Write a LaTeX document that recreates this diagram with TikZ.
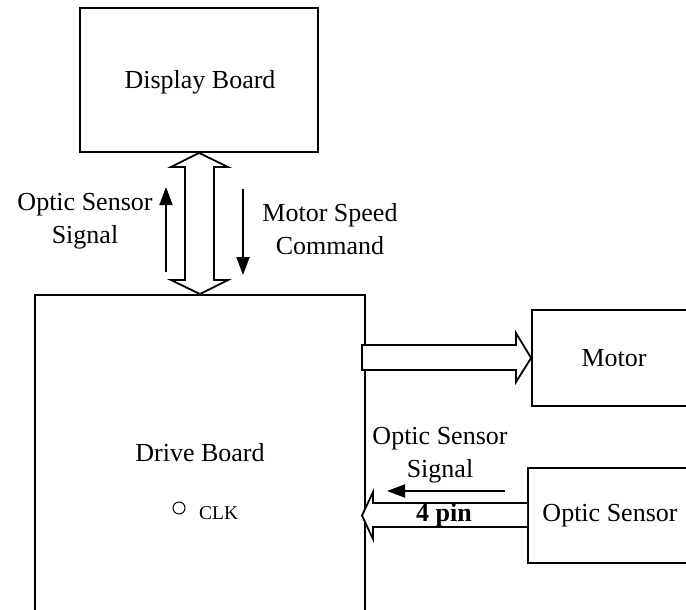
\documentclass[tikz,border=0pt]{standalone}
\usepackage{fontspec}
\setmainfont{Liberation Serif}
\usetikzlibrary{arrows.meta}
\begin{document}
\begin{tikzpicture}[x=1pt,y=-1pt,
  box/.style={draw,line width=1.8pt,inner sep=0pt},
  lbl/.style={font=\fontsize{26}{33}\selectfont,align=center,inner sep=0pt},
  blockarrow/.style={draw,fill=white,line width=1.8pt,line join=miter},
  sig/.style={line width=1.8pt,-{Triangle[length=18pt,width=13pt]}}]
\useasboundingbox (0,0) rectangle (686,610);
\clip (0,0) rectangle (686,610);
\fill[white] (0,0) rectangle (686,610);
% boxes
\node[box,minimum width=238pt,minimum height=144pt] (disp) at (199,80) {};
\node[box,minimum width=330pt,minimum height=345pt] (drive) at (200,467.5) {};
\node[box,minimum width=165pt,minimum height=96pt] (motor) at (614.5,358) {};
\node[box,minimum width=165pt,minimum height=95pt] (sensor) at (610.5,515.5) {};
% labels
\node[lbl] (dispt) at (200,82) {Display Board};
\node[lbl] (drivet) at (200,453) {Drive Board};
\node[lbl] (motort) at (614,358) {Motor};
\node[lbl] (sensort) at (610,516) {Optic Sensor};
\node[lbl] (lsig) at (85,221) {Optic Sensor\\Signal};
\node[lbl] (cmd) at (330,229) {Motor Speed\\Command};
\node[lbl] (rsig) at (440,455) {Optic Sensor\\Signal};
% double arrow between display and drive
\draw[blockarrow] (disp.south) -- (171,167) -- (185,167) -- (185,280) -- (171,280)
  -- (drive.north) -- (228,280) -- (214,280) -- (214,167) -- (228,167) -- cycle;
% drive -> motor
\draw[blockarrow] (362,345) -- (516,345) -- (516,333) -- (motor.west) -- (516,382)
  -- (516,370) -- (362,370) -- cycle;
% sensor -> drive (4 pin)
\draw[blockarrow] (sensor.west |- 0,503) -- (373,503) -- (373,492) -- (362,515.5)
  -- (373,539) -- (373,527) -- (sensor.west |- 0,527);
\node[inner sep=0pt,font=\bfseries\fontsize{26}{30}\selectfont] (pin) at (444,515) {4 pin};
% signal arrows
\coordinate (u1) at (166,272); \coordinate (u2) at (166,187);
\draw[sig] (u1) -- (u2);
\coordinate (d1) at (243,189); \coordinate (d2) at (243,275);
\draw[sig] (d1) -- (d2);
\coordinate (l1) at (505,491); \coordinate (l2) at (387,491);
\draw[sig] (l1) -- (l2);
% CLK
\node[draw,circle,line width=1pt,minimum size=12pt,inner sep=0pt] (clkc) at (179,508) {};
\node[inner sep=0pt,anchor=base west,font=\fontsize{19.5}{22}\selectfont] (clk) at (199,519) {CLK};
\end{tikzpicture}
\end{document}
